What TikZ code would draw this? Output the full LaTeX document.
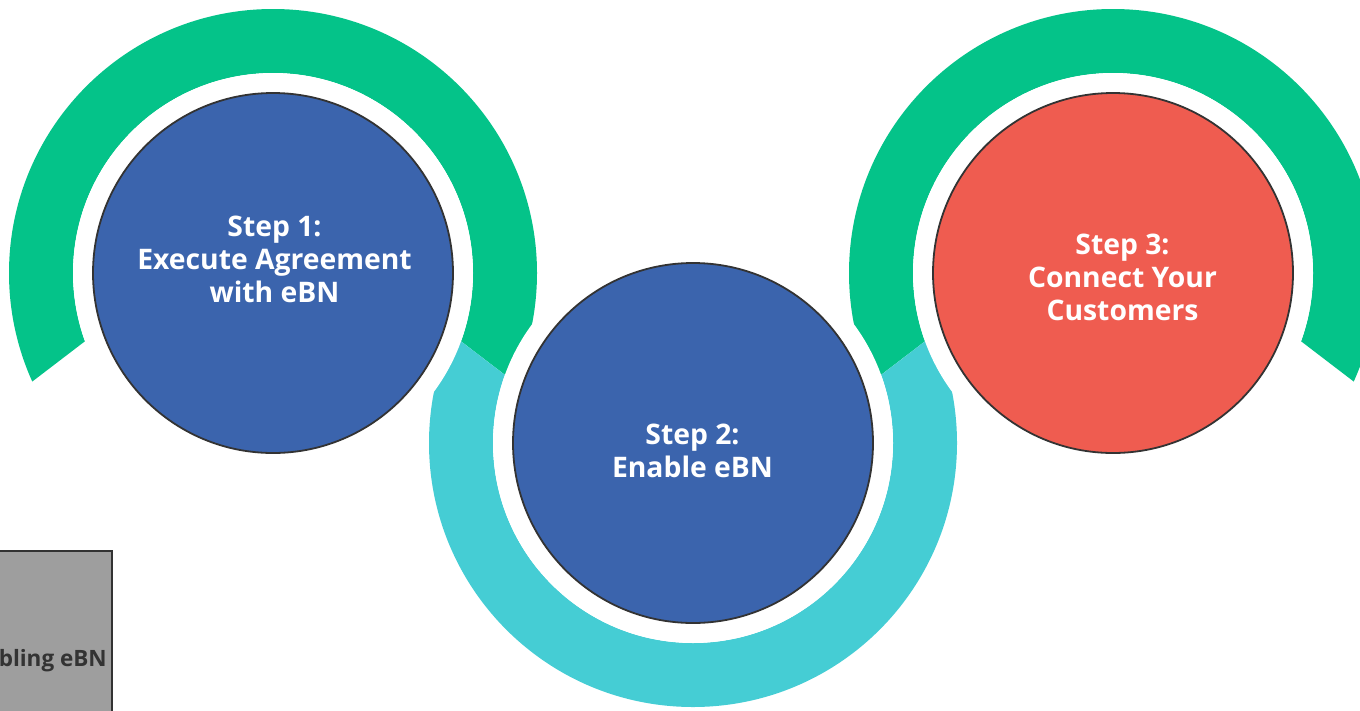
\documentclass[tikz,border=0pt]{standalone}
\usepackage{fontspec}
\setmainfont{Open Sans}
\definecolor{ringgreen}{HTML}{04C389}
\definecolor{ringcyan}{HTML}{45CDD4}
\definecolor{stepblue}{HTML}{3B64AD}
\definecolor{stepred}{HTML}{EF5C50}
\definecolor{edgedark}{HTML}{333333}
\definecolor{boxgray}{HTML}{9E9E9E}
\begin{document}
\begin{tikzpicture}[x=1pt,y=-1pt,
  stepdisk/.style={circle, draw=edgedark, line width=1.8pt, minimum size=360pt, inner sep=0pt},
  halo/.style={circle, fill=white, minimum size=400pt, inner sep=0pt},
  steptext/.style={text=white, font=\bfseries\fontsize{28.3}{33}\selectfont, align=center},
  ring/.style={even odd rule}]
\useasboundingbox (0,0) rectangle (1360,710);
\clip (0,0) rectangle (1360,710);
% green ring around step 1
\begin{scope}
  \clip (-400,712) -- (273,197.5) -- (946,712) -- (946,-100) -- (-400,-100) -- cycle;
  \fill[ringgreen, ring] (273,273) circle[radius=264] (273,273) circle[radius=200];
\end{scope}
% green ring around step 3
\begin{scope}
  \clip (440,712) -- (1113,197.5) -- (1786,712) -- (1786,-100) -- (440,-100) -- cycle;
  \fill[ringgreen, ring] (1113,273) circle[radius=264] (1113,273) circle[radius=200];
\end{scope}
% cyan ring around step 2
\begin{scope}
  \clip (200,141.7) -- (693,518.8) -- (1186,141.7) -- (1186,800) -- (200,800) -- cycle;
  \fill[ringcyan, ring] (693,443) circle[radius=264] (693,443) circle[radius=200];
\end{scope}
% white halos
\node[halo] (h1) at (273,273) {};
\node[halo] (h2) at (693,443) {};
\node[halo] (h3) at (1113,273) {};
% step circles
\node[stepdisk, fill=stepblue] (s1) at (273,273) {};
\node[stepdisk, fill=stepblue] (s2) at (693,443) {};
\node[stepdisk, fill=stepred] (s3) at (1113,273) {};
\node[steptext] (t1) at (274.5,259) {Step 1:\\Execute Agreement\\with eBN};
\node[steptext] (t2) at (692.5,451) {Step 2:\\Enable eBN};
\node[steptext] (t3) at (1122.5,277) {Step 3:\\Connect Your\\Customers};
% gray box
\draw[fill=boxgray, draw=edgedark, line width=1.2pt] (-20,551) rectangle (112,730);
\node[anchor=base east, text=edgedark, font=\bfseries\fontsize{22.5}{26}\selectfont, inner sep=0pt] (gb) at (107,666) {bling eBN};
\end{tikzpicture}
\end{document}
